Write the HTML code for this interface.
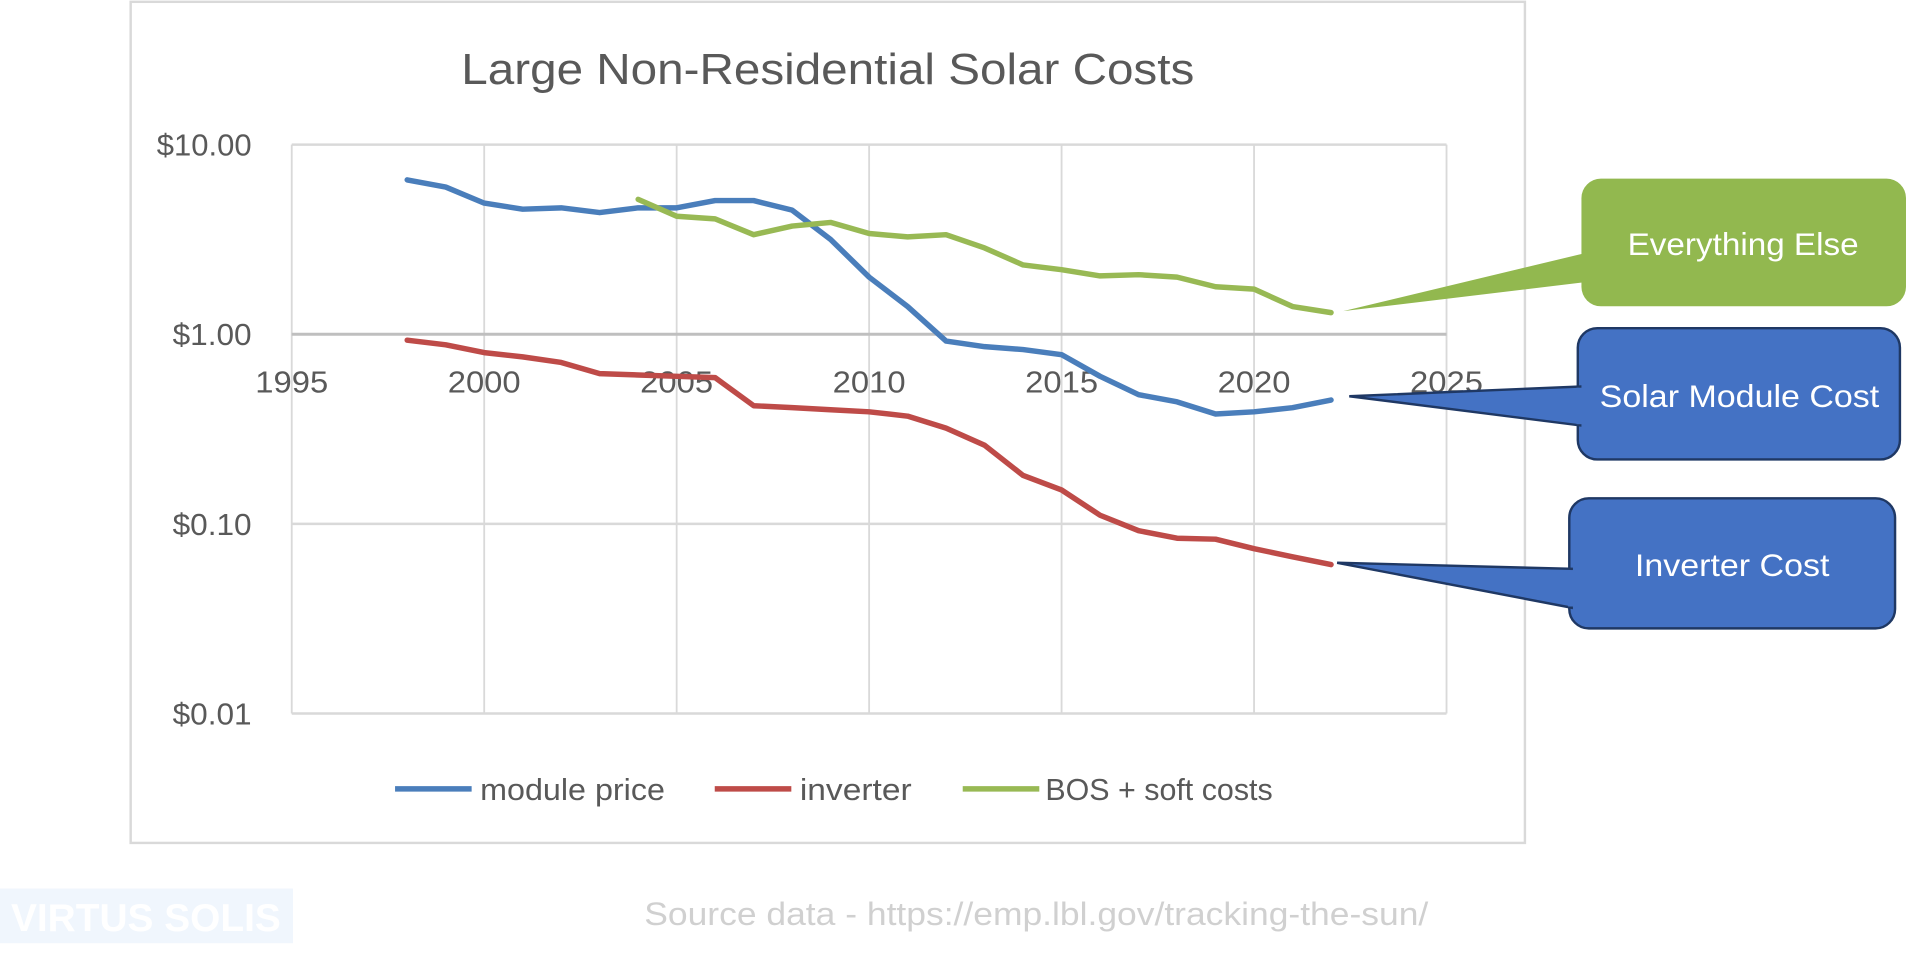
<!DOCTYPE html>
<html><head><meta charset="utf-8"><style>
html,body{margin:0;padding:0;background:#fff;}
svg{display:block;font-family:"Liberation Sans",sans-serif;}
</style></head><body>
<svg id="chart" width="1906" height="959" viewBox="0 0 1568 789" preserveAspectRatio="none" xmlns="http://www.w3.org/2000/svg">
<rect x="107.5" y="1.5" width="1147" height="692" fill="#fff" stroke="#d9d9d9" stroke-width="2"/>
<text x="681" y="69" text-anchor="middle" font-size="36" fill="#595959" textLength="603" lengthAdjust="spacingAndGlyphs">Large Non-Residential Solar Costs</text>
<g id="grid"></g>
<g id="ylabels"></g>
<g id="xlabels"></g>
<g id="series"></g>
<g font-size="25" fill="#595959">
<line x1="325" y1="649" x2="388" y2="649" stroke="#4a7ebb" stroke-width="4.5"/>
<text x="395" y="658" textLength="152" lengthAdjust="spacingAndGlyphs">module price</text>
<line x1="588" y1="649" x2="651" y2="649" stroke="#be4b48" stroke-width="4.5"/>
<text x="658" y="658" textLength="92" lengthAdjust="spacingAndGlyphs">inverter</text>
<line x1="792" y1="649" x2="855" y2="649" stroke="#98b954" stroke-width="4.5"/>
<text x="860" y="658" textLength="187" lengthAdjust="spacingAndGlyphs">BOS + soft costs</text>
</g>
<g>
<path d="M1105,256 L1305,208 L1305,232 Z" fill="#92b84f"/>
<rect x="1301" y="147" width="267" height="105" rx="16" fill="#92b84f"/>
<text x="1434" y="210" text-anchor="middle" font-size="26" fill="#fff" textLength="190" lengthAdjust="spacingAndGlyphs">Everything Else</text>
</g>
<g>
<rect x="1298" y="270" width="265" height="108" rx="16" fill="#4472c4" stroke="#1f3864" stroke-width="2"/>
<path d="M1110,326 L1300,318 L1300,350 Z" fill="#4472c4" stroke="#1f3864" stroke-width="2"/>
<rect x="1297" y="319" width="6" height="30" fill="#4472c4"/>
<text x="1431" y="335" text-anchor="middle" font-size="26" fill="#fff" textLength="230" lengthAdjust="spacingAndGlyphs">Solar Module Cost</text>
</g>
<g>
<rect x="1291" y="410" width="268" height="107" rx="16" fill="#4472c4" stroke="#1f3864" stroke-width="2"/>
<path d="M1100,463 L1293,468 L1293,500 Z" fill="#4472c4" stroke="#1f3864" stroke-width="2"/>
<rect x="1290" y="469" width="6" height="30" fill="#4472c4"/>
<text x="1425" y="474" text-anchor="middle" font-size="26" fill="#fff" textLength="160" lengthAdjust="spacingAndGlyphs">Inverter Cost</text>
</g>
<g>
<rect x="0" y="731" width="241" height="45" fill="#f0f6fd"/>
<text x="120" y="766" text-anchor="middle" font-size="32" font-weight="bold" fill="#ffffff" textLength="222" lengthAdjust="spacingAndGlyphs">VIRTUS SOLIS</text>
</g>
<text x="530" y="761" font-size="27" fill="#d0d0d0" textLength="645" lengthAdjust="spacingAndGlyphs">Source data - https://emp.lbl.gov/tracking-the-sun/</text>
</svg>
<script>
const years = [1998,1999,2000,2001,2002,2003,2004,2005,2006,2007,2008,2009,2010,2011,2012,2013,2014,2015,2016,2017,2018,2019,2020,2021,2022];
const modulePrice = [6.52,5.97,4.92,4.57,4.64,4.38,4.64,4.64,5.07,5.07,4.51,3.16,2.00,1.40,0.92,0.86,0.83,0.78,0.60,0.48,0.44,0.38,0.39,0.41,0.45];
const inverter = [0.93,0.88,0.80,0.76,0.71,0.62,0.61,0.60,0.59,0.42,0.41,0.40,0.39,0.37,0.32,0.26,0.18,0.151,0.111,0.092,0.084,0.083,0.074,0.067,0.061];
const bosYears = [2004,2005,2006,2007,2008,2009,2010,2011,2012,2013,2014,2015,2016,2017,2018,2019,2020,2021,2022];
const bosCosts = [5.15,4.19,4.06,3.35,3.72,3.89,3.40,3.26,3.35,2.85,2.32,2.19,2.03,2.06,2.00,1.78,1.73,1.40,1.30];
const yTicks = [10,1,0.1,0.01];
const yTickLabels = ["$10.00","$1.00","$0.10","$0.01"];
const xTicks = [1995,2000,2005,2010,2015,2020,2025];

const NS="http://www.w3.org/2000/svg";
const L=240,R=1190,T=119,B=587;
function xs(yr){return L+(yr-1995)/(2025-1995)*(R-L);}
function ys(v){return T+(1-Math.log10(v))/3*(B-T);}
function mk(tag,attrs,parent){const e=document.createElementNS(NS,tag);for(const k in attrs)e.setAttribute(k,attrs[k]);parent.appendChild(e);return e;}
const grid=document.getElementById('grid'),yl=document.getElementById('ylabels'),xl=document.getElementById('xlabels'),ser=document.getElementById('series');
xTicks.forEach(t=>{
  const l=mk('line',{x1:xs(t),x2:xs(t),y1:T,y2:B,stroke:'#d9d9d9','stroke-width':1.5},grid);
  
  
  const tx=mk('text',{x:xs(t),y:ys(1)+48,'text-anchor':'middle','font-size':25,fill:'#595959',textLength:60,lengthAdjust:'spacingAndGlyphs'},xl);
  tx.textContent=t;
  
  
});
yTicks.forEach((t,i)=>{
  const l=mk('line',{x1:L,x2:R,y1:ys(t),y2:ys(t),stroke:t===1?'#bfbfbf':'#d9d9d9','stroke-width':t===1?2.5:2},grid);
  
  
  const w=yTickLabels[i].length*13;
  const tx=mk('text',{x:207,y:ys(t)+9,'text-anchor':'end','font-size':25,fill:'#595959',textLength:w,lengthAdjust:'spacingAndGlyphs'},yl);
  tx.textContent=yTickLabels[i];
  
  
});
function line(xv,yv,color,name){
  const d=xv.map((x,i)=>(i?'L':'M')+xs(x).toFixed(1)+','+ys(yv[i]).toFixed(1)).join(' ');
  const p=mk('path',{d:d,fill:'none',stroke:color,'stroke-width':4.5,'stroke-linejoin':'round','stroke-linecap':'round'},ser);
  
  
}
line(years,modulePrice,'#4a7ebb','module-price-line');
line(years,inverter,'#be4b48','inverter-line');
line(bosYears,bosCosts,'#98b954','bos-soft-costs-line');
</script>
</body></html>
